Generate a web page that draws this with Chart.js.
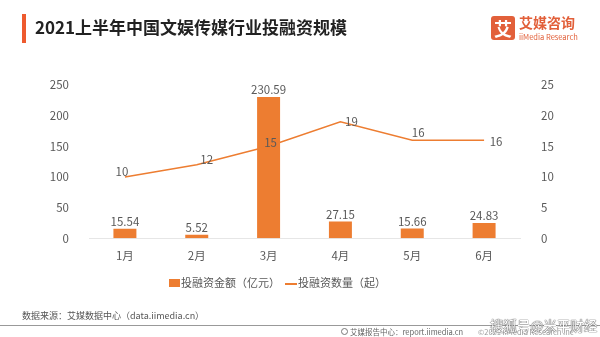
<!DOCTYPE html>
<html>
<head>
<meta charset="utf-8">
<script src="https://cdn.jsdelivr.net/npm/chart.js@4"></script>
<style>
body{margin:0;background:#fff;font-family:"Noto Sans CJK SC","Noto Sans",sans-serif;}
#wrap{position:relative;width:600px;height:337px;overflow:hidden;}
#box{position:absolute;left:0;top:0;width:600px;height:337px;}
.t{position:absolute;white-space:nowrap;}
</style>
</head>
<body>
<div id="wrap">
<div id="box"><canvas id="chart"></canvas></div>
<div class="t" style="left:22px;top:14px;width:4px;height:29px;background:#ee5a2e;"></div>
<div class="t" style="left:35px;top:14px;font-size:17px;font-weight:bold;color:#222;">2021上半年中国文娱传媒行业投融资规模</div>
<div class="t" style="left:491px;top:16px;width:24px;height:24px;background:#e2603a;border-radius:3px;color:#fff;font-size:18px;line-height:24px;text-align:center;font-weight:bold;">艾</div>
<div class="t" style="left:519px;top:12px;font-size:14px;font-weight:bold;color:#e2603a;">艾媒咨询</div>
<div class="t" style="left:519px;top:31px;font-size:7.5px;color:#e2603a;">iiMedia Research</div>
<!-- legend -->
<div class="t" style="left:169px;top:279px;width:11px;height:8px;background:#ed7d31;"></div>
<div class="t" style="left:181px;top:274px;font-size:11px;color:#595959;">投融资金额（亿元）</div>
<div class="t" style="left:285px;top:283px;width:12px;height:1.5px;background:#ed7d31;"></div>
<div class="t" style="left:298px;top:274px;font-size:11px;color:#595959;">投融资数量（起）</div>
<!-- footer -->
<div class="t" style="left:22px;top:309px;font-size:9px;color:#555;">数据来源：艾媒数据中心（data.iimedia.cn）</div>
<div class="t" style="left:0;top:325px;width:600px;height:1px;background:#999;"></div>
<div class="t" style="left:341px;top:328px;width:7px;height:7px;border:1px solid #777;border-radius:50%;box-sizing:border-box;"></div>
<div class="t" style="left:350px;top:326px;font-size:7.5px;color:#666;">艾媒报告中心：report.iimedia.cn</div>
<div class="t" style="left:478px;top:326px;font-size:7.5px;color:#999;">©2021 iiMedia Research Inc</div>
<div class="t" style="left:490px;top:315px;font-size:13.5px;color:#fff;text-shadow:0 0 1px #333,0 0 1px #333;">搜狐号@米平财经</div>
</div>
<script>
let months = ["1月","2月","3月","4月","5月","6月"];
let amount = [15.54,5.52,230.59,27.15,15.66,24.83];
let deals = [10,12,15,19,16,16];
let leftTicks = [0,50,100,150,200,250];
let rightTicks = [0,5,10,15,20,25];

// label offsets from each line point (text centre), as placed in the original
let dealLabelOffsets = [[-3,-5],[10,-5],[2,-4],[11,0],[6,-8],[12,1]];

let orange = "#ed7d31";
let textColor = "#595959";
let fontFam = "'Noto Sans CJK SC'";

const labelPlugin = {
id:"labels",
afterDatasetsDraw(chart){
let ctx = chart.ctx;
ctx.save();
ctx.font = "11.5px " + fontFam;
ctx.fillStyle = textColor;

let barMeta = chart.getDatasetMeta(0);
barMeta.data.forEach((bar,i)=>{
ctx.textAlign = "center";
ctx.textBaseline = "middle";
ctx.fillText(amount[i].toFixed(2), bar.x, bar.y-7);
});

let lineMeta = chart.getDatasetMeta(1);
lineMeta.data.forEach((pt,i)=>{
let off = dealLabelOffsets[i];
ctx.textAlign = "center";
ctx.textBaseline = "middle";
ctx.fillText(deals[i], pt.x+off[0], pt.y+off[1]);
});
ctx.restore();
}
};

new Chart(document.getElementById("chart"),{
type:"bar",
data:{
labels:months,
datasets:[
{
type:"bar",
label:"投融资金额（亿元）",
data:amount,
backgroundColor:orange,
yAxisID:"y",
categoryPercentage:0.32,
barPercentage:1,
order:2
},
{
type:"line",
label:"投融资数量（起）",
data:deals,
borderColor:orange,
backgroundColor:orange,
borderWidth:1.5,
pointRadius:0,
tension:0,
yAxisID:"y1",
order:1
}
]
},
options:{
responsive:true,
maintainAspectRatio:false,
animation:false,
layout:{padding:{top:85,left:0,right:0,bottom:63}},
plugins:{
legend:{display:false},
tooltip:{enabled:false}
},
scales:{
x:{
grid:{display:false,drawTicks:false},
border:{display:true,color:"#e6e6e6",width:1},
ticks:{color:textColor,font:{size:11.5,family:fontFam},padding:11}
},
y:{
position:"left",
min:0,max:250,
afterBuildTicks(scale){scale.ticks = leftTicks.map(v=>({value:v}));},
afterFit(scale){scale.width = 89;},
grid:{display:false},
border:{display:false},
ticks:{color:textColor,font:{size:11.5,family:fontFam},padding:12}
},
y1:{
position:"right",
min:0,max:25,
afterBuildTicks(scale){scale.ticks = rightTicks.map(v=>({value:v}));},
afterFit(scale){scale.width = 80;},
grid:{display:false},
border:{display:false},
ticks:{color:textColor,font:{size:11.5,family:fontFam},padding:13}
}
}
},
plugins:[labelPlugin]
});
</script>
</body>
</html>
